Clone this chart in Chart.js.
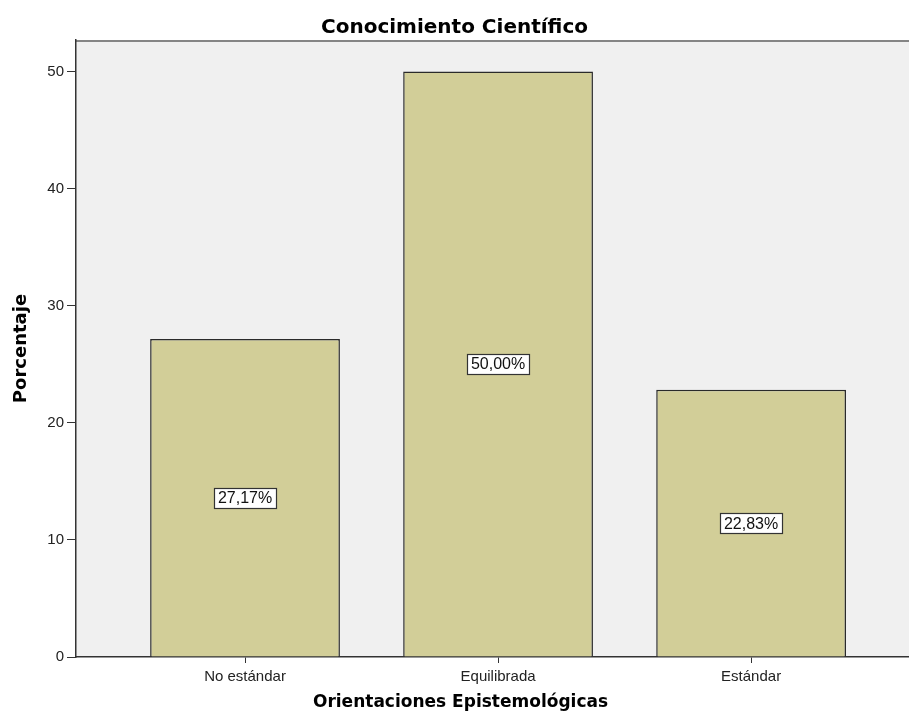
<!DOCTYPE html>
<html>
<head>
<meta charset="utf-8">
<title>Conocimiento Científico</title>
<script src="https://cdn.jsdelivr.net/npm/chart.js@4/dist/chart.umd.min.js"></script>
<style>
  body { margin: 0; background: #fff; }
  #wrap { width: 909px; height: 724px; }
</style>
</head>
<body>
<div id="wrap"><canvas id="myChart" width="909" height="724"></canvas></div>
<script>
const categories = ['No estándar', 'Equilibrada', 'Estándar'];
const percentages = [27.17, 50.00, 22.83];
const yTicks = [0, 10, 20, 30, 40, 50];
const xTitle = 'Orientaciones Epistemológicas';

// bar positions on a numeric x axis: 1, 2, 3
const points = percentages.map((v, i) => ({ x: i + 1, y: v }));

const plotBackground = {
  id: 'plotBackground',
  beforeDraw(chart) {
    const { ctx, chartArea: a } = chart;
    ctx.save();
    ctx.fillStyle = '#f0f0f0';
    ctx.fillRect(a.left, a.top, a.right - a.left, a.bottom - a.top);
    // top frame line
    ctx.strokeStyle = '#858585';
    ctx.lineWidth = 2;
    ctx.beginPath();
    ctx.moveTo(a.left, a.top + 1);
    ctx.lineTo(a.right, a.top + 1);
    ctx.stroke();
    ctx.restore();
  }
};

const valueBoxes = {
  id: 'valueBoxes',
  afterDatasetsDraw(chart) {
    const { ctx } = chart;
    const meta = chart.getDatasetMeta(0);
    ctx.save();
    ctx.font = '16px "Liberation Sans", Arial, sans-serif';
    ctx.textAlign = 'center';
    ctx.textBaseline = 'middle';
    meta.data.forEach((bar, i) => {
      const text = percentages[i].toFixed(2).replace('.', ',') + '%';
      const cx = bar.x;
      const cy = (bar.y + bar.base) / 2;
      const w = Math.round(ctx.measureText(text).width + 8);
      const h = 20;
      const x0 = Math.round(cx - w / 2) + 0.5;
      const y0 = Math.round(cy - h / 2) + 0.5;
      ctx.fillStyle = '#ffffff';
      ctx.fillRect(x0, y0, w, h);
      ctx.strokeStyle = '#333333';
      ctx.lineWidth = 1.2;
      ctx.strokeRect(x0, y0, w, h);
      ctx.fillStyle = '#111111';
      ctx.fillText(text, cx, cy + 1);
    });
    ctx.restore();
  }
};

// x axis title is centred on the whole figure, not on the plot area
const xAxisTitle = {
  id: 'xAxisTitle',
  afterDraw(chart) {
    const { ctx } = chart;
    ctx.save();
    ctx.font = 'bold 17px "DejaVu Sans", sans-serif';
    ctx.fillStyle = '#000';
    ctx.textAlign = 'center';
    ctx.textBaseline = 'middle';
    ctx.fillText(xTitle, chart.width / 2 + 6, 703);
    ctx.restore();
  }
};

new Chart('myChart', {
  type: 'bar',
  data: {
    datasets: [{
      data: points,
      backgroundColor: '#d2ce98',
      borderColor: '#2a2a2a',
      borderWidth: 1.5,
      borderSkipped: 'bottom',
      categoryPercentage: 1,
      barPercentage: 0.75
    }]
  },
  plugins: [plotBackground, valueBoxes, xAxisTitle],
  options: {
    responsive: false,
    animation: false,
    layout: { padding: 0 },
    plugins: {
      legend: { display: false },
      tooltip: { enabled: false },
      title: {
        display: true,
        text: 'Conocimiento Científico',
        color: '#000',
        font: { family: 'DejaVu Sans', size: 20, weight: 'bold' },
        padding: { top: 16, bottom: 0 }
      }
    },
    scales: {
      x: {
        type: 'linear',
        offset: false,
        min: 0.332,
        max: 3.624,
        afterBuildTicks: (axis) => { axis.ticks = categories.map((c, i) => ({ value: i + 1 })); },
        afterFit: (axis) => { axis.height = 67; },
        ticks: {
          callback: (v) => categories[v - 1],
          color: '#222',
          font: { family: 'Liberation Sans', size: 15 },
          padding: 5,
          maxRotation: 0,
          autoSkip: false
        },
        grid: { offset: false, drawOnChartArea: false, drawTicks: true, tickLength: 6, color: '#333' },
        border: { display: true, color: '#333', width: 1.5 },
        title: { display: false }
      },
      y: {
        min: 0,
        max: 52.7,
        afterBuildTicks: (axis) => { axis.ticks = yTicks.map(v => ({ value: v })); },
        afterFit: (axis) => { axis.width = 76; },
        ticks: {
          color: '#222',
          font: { family: 'Liberation Sans', size: 15 },
          padding: 3
        },
        grid: { drawOnChartArea: false, drawTicks: true, tickLength: 9, color: '#333' },
        border: { display: true, color: '#333', width: 1.5 },
        title: {
          display: true,
          text: 'Porcentaje',
          color: '#000',
          font: { family: 'DejaVu Sans', size: 18, weight: 'bold' },
          padding: { top: 11, bottom: 0 }
        }
      }
    }
  }
});
</script>
</body>
</html>
